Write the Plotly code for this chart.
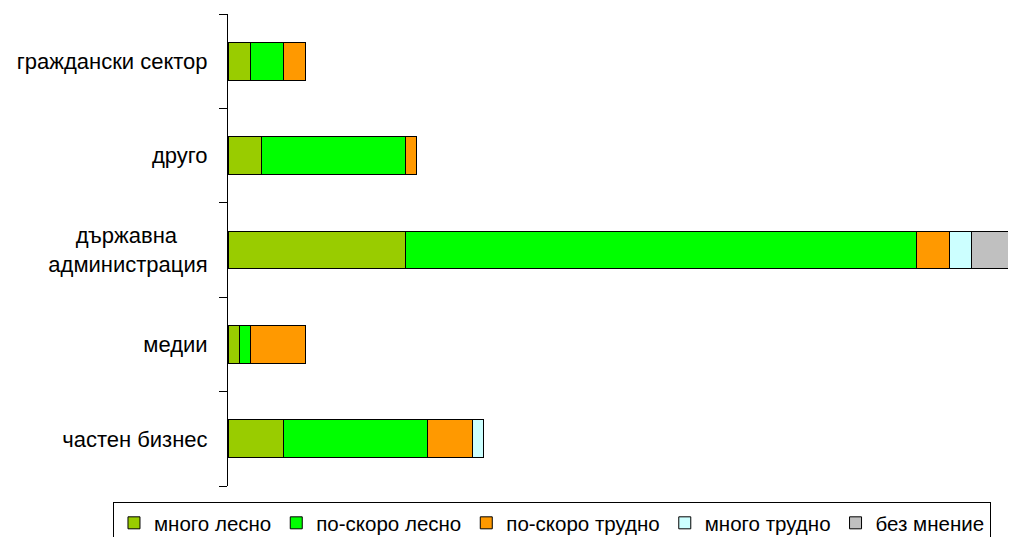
import plotly.graph_objects as go

categories = ["частен бизнес", "медии", "държавна" + "\u00a0" * 5 + "<br>администрация", "друго", "граждански сектор"]
series_names = ["много лесно", "по-скоро лесно", "по-скоро трудно", "много трудно", "без мнение"]
mnogo_lesno = [5, 1, 16, 3, 2]
po_skoro_lesno = [13, 1, 46, 13, 3]
po_skoro_trudno = [4, 5, 3, 1, 2]
mnogo_trudno = [1, None, 2, None, None]
bez_mnenie = [None, None, 4, None, None]
colors = ["#99CC00", "#00FF00", "#FF9900", "#CCFFFF", "#C0C0C0"]

series = [mnogo_lesno, po_skoro_lesno, po_skoro_trudno, mnogo_trudno, bez_mnenie]

fig = go.Figure()
for name, vals, col in zip(series_names, series, colors):
    fig.add_trace(go.Bar(
        y=categories, x=vals, name=name, orientation="h",
        marker=dict(color=col, line=dict(color="black", width=1)),
    ))

# page is rendered with an 8px body margin; margins compensate for it
fig.update_layout(
    autosize=False,
    barmode="stack",
    bargap=0.6,
    width=1016, height=537,
    margin=dict(l=220, r=0, t=6, b=59, autoexpand=False),
    paper_bgcolor="white", plot_bgcolor="white",
    font=dict(family="Liberation Sans, Arial, sans-serif", size=22, color="black"),
    xaxis=dict(visible=False, range=[0, 71.7]),
    yaxis=dict(
        type="category", categoryorder="array", categoryarray=categories,
        range=[-0.5, 4.5], automargin=False,
        showline=True, linecolor="black", linewidth=1,
        ticks="outside", tickson="boundaries", ticklen=8, tickcolor="black",
        ticklabelstandoff=15, showgrid=False, zeroline=False,
    ),
    legend=dict(
        orientation="h",
        x=-0.1445, xanchor="left", y=-0.0339, yanchor="top",
        bordercolor="black", borderwidth=1, bgcolor="white",
        font=dict(size=20.5), traceorder="normal",
        itemclick=False,
    ),
    showlegend=True,
)

fig.write_html("out.html", config={"responsive": False})
